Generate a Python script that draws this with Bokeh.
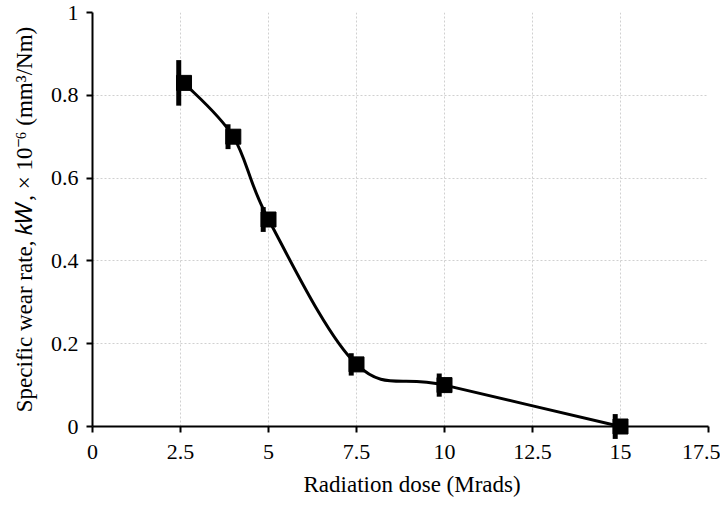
from bokeh.plotting import figure
from bokeh.models import FixedTicker, ColumnDataSource, Title
from bokeh.transform import dodge
from bokeh.embed import file_html
from bokeh.resources import INLINE

# data
dose = [2.6, 4.0, 5.0, 7.5, 10.0, 15.0]
wear = [0.83, 0.70, 0.50, 0.15, 0.10, 0.00]
err = [0.055, 0.03, 0.03, 0.027, 0.028, 0.03]

x_ticks = [0, 2.5, 5, 7.5, 10, 12.5, 15, 17.5]
x_tick_labels = ["0", "2.5", "5", "7.5", "10", "12.5", "15", "17.5"]
y_ticks = [0, 0.2, 0.4, 0.6, 0.8, 1.0]
y_tick_labels = ["0", "0.2", "0.4", "0.6", "0.8", "1"]
x_title = "Radiation dose (Mrads)"
y_title = "Specific wear rate, 𝑘𝑊, × 10⁻⁶ (mm³/Nm)"

FONT = "Liberation Serif"

p = figure(frame_width=616, frame_height=414, x_range=(0, 17.5), y_range=(0, 1),
           output_backend="svg", toolbar_location=None,
           min_border_left=92, min_border_right=12, min_border_top=12, min_border_bottom=60)
p.outline_line_color = None
p.background_fill_color = "white"
p.border_fill_color = "white"

# smoothed curve (Excel-style Bezier through the points)
n = len(dose)
x0s, y0s, x1s, y1s, cx0s, cy0s, cx1s, cy1s = [], [], [], [], [], [], [], []
for i in range(n - 1):
    pm = max(i - 1, 0)
    pn = min(i + 2, n - 1)
    x0s.append(dose[i]); y0s.append(wear[i])
    x1s.append(dose[i + 1]); y1s.append(wear[i + 1])
    cx0s.append(dose[i] + (dose[i + 1] - dose[pm]) / 6)
    cy0s.append(wear[i] + (wear[i + 1] - wear[pm]) / 6)
    cx1s.append(dose[i + 1] - (dose[pn] - dose[i]) / 6)
    cy1s.append(wear[i + 1] - (wear[pn] - wear[i]) / 6)
r_curve = p.bezier(x0=x0s, y0=y0s, x1=x1s, y1=y1s, cx0=cx0s, cy0=cy0s, cx1=cx1s, cy1=cy1s,
                   line_color="black", line_width=3)

src = ColumnDataSource(dict(x=dose, y=wear,
                            lo=[w - e for w, e in zip(wear, err)],
                            hi=[w + e for w, e in zip(wear, err)]))
r_err = p.segment(x0=dodge("x", -0.15), x1=dodge("x", -0.15), y0="lo", y1="hi", source=src,
                  line_color="black", line_width=5)
r_pts = p.scatter("x", "y", source=src, marker="square", size=15, color="black")
for r in (r_curve, r_err, r_pts):
    r.level = "annotation"

for ax, ticks, labels in ((p.xaxis[0], x_ticks, x_tick_labels), (p.yaxis[0], y_ticks, y_tick_labels)):
    ax.ticker = FixedTicker(ticks=ticks)
    ax.major_label_overrides = {t: l for t, l in zip(ticks, labels)}
    ax.minor_tick_line_color = None
    ax.axis_line_color = "black"
    ax.axis_line_width = 2
    ax.major_tick_line_color = "black"
    ax.major_tick_line_width = 2
    ax.major_tick_in = 0
    ax.major_tick_out = 6
    ax.major_label_text_font = FONT
    ax.major_label_text_font_size = "22px"
    ax.major_label_text_color = "black"
    ax.axis_label_text_font = FONT
    ax.axis_label_text_font_size = "23px"
    ax.axis_label_text_font_style = "normal"
    ax.axis_label_text_color = "black"

p.yaxis.axis_label = y_title
p.xaxis.major_label_standoff = 12
p.yaxis.major_label_standoff = 8
p.yaxis.axis_label_standoff = 11

# x-axis title, shifted right like the reference (centred on the chart area)
p.add_layout(Title(text=x_title, align="left", offset=211, standoff=17,
                   text_font=FONT, text_font_size="23px", text_font_style="normal",
                   text_color="black"), "below")

for g in (p.xgrid[0], p.ygrid[0]):
    g.grid_line_color = "#d0d0d0"
    g.grid_line_dash = "2 2"
    g.grid_line_width = 1

open("out.html", "w").write(file_html(p, INLINE))
